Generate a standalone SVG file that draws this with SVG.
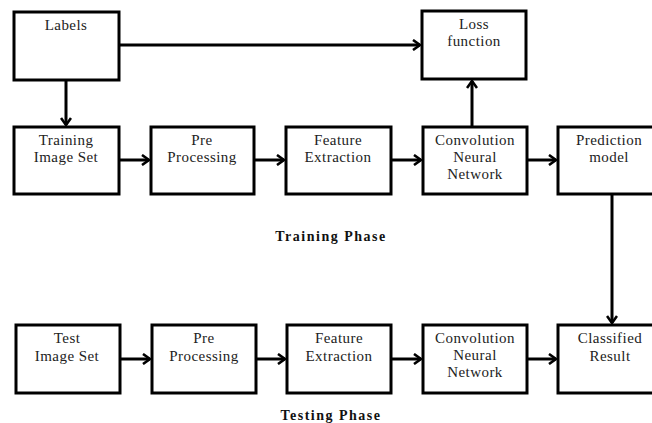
<svg xmlns="http://www.w3.org/2000/svg" width="652" height="423" viewBox="0 0 652 423">
<defs>
<style>
.box{fill:#fff;stroke:#000;stroke-width:3}
.t{font-family:"Liberation Serif",serif;font-size:15px;fill:#222;text-anchor:middle;letter-spacing:0.45px}
.h{font-family:"Liberation Serif",serif;font-size:14px;font-weight:bold;fill:#111;text-anchor:middle;letter-spacing:1.5px}
.c{fill:none;stroke:#000;stroke-width:3}
</style>
<marker id="ah" markerWidth="12" markerHeight="12" refX="9" refY="6" orient="auto" markerUnits="userSpaceOnUse">
<path d="M2,1 L9,6 L2,11" fill="none" stroke="#000" stroke-width="2.6"/>
</marker>
</defs>
<rect width="652" height="423" fill="#fff"/>
<g id="connectors">
<path class="c" d="M66,80 V125" marker-end="url(#ah)"/>
<path class="c" d="M119,45 H420" marker-end="url(#ah)"/>
<path class="c" d="M472,127 V81" marker-end="url(#ah)"/>
<path class="c" d="M612,194 V323" marker-end="url(#ah)"/>
<path class="c" d="M119,160 H149" marker-end="url(#ah)"/>
<path class="c" d="M254,160 H284" marker-end="url(#ah)"/>
<path class="c" d="M391,160 H421" marker-end="url(#ah)"/>
<path class="c" d="M527,160 H556" marker-end="url(#ah)"/>
<path class="c" d="M120,359 H150" marker-end="url(#ah)"/>
<path class="c" d="M256,359 H285" marker-end="url(#ah)"/>
<path class="c" d="M391,359 H421" marker-end="url(#ah)"/>
<path class="c" d="M527,359 H556" marker-end="url(#ah)"/>
</g>
<g id="labels"><rect class="box" x="14" y="12" width="105" height="68"/><text class="t" x="66" y="30">Labels</text></g>
<g id="loss"><rect class="box" x="422" y="11" width="104" height="68"/><text class="t" x="474" y="29">Loss</text><text class="t" x="474" y="46">function</text></g>
<g id="train-img"><rect class="box" x="14" y="127" width="105" height="67"/><text class="t" x="66" y="145">Training</text><text class="t" x="66" y="162">Image Set</text></g>
<g id="train-pre"><rect class="box" x="151" y="127" width="103" height="67"/><text class="t" x="202" y="145">Pre</text><text class="t" x="202" y="162">Processing</text></g>
<g id="train-feat"><rect class="box" x="286" y="127" width="105" height="67"/><text class="t" x="338" y="145">Feature</text><text class="t" x="338" y="162">Extraction</text></g>
<g id="train-cnn"><rect class="box" x="423" y="127" width="104" height="67"/><text class="t" x="475" y="145">Convolution</text><text class="t" x="475" y="162">Neural</text><text class="t" x="475" y="179">Network</text></g>
<g id="pred"><rect class="box" x="558" y="127" width="110" height="67"/><text class="t" x="609" y="145">Prediction</text><text class="t" x="609" y="162">model</text></g>
<g id="train-phase"><text class="h" x="331" y="241">Training Phase</text></g>
<g id="test-img"><rect class="box" x="16" y="325" width="104" height="68"/><text class="t" x="67" y="343">Test</text><text class="t" x="67" y="361">Image Set</text></g>
<g id="test-pre"><rect class="box" x="152" y="325" width="104" height="68"/><text class="t" x="204" y="343">Pre</text><text class="t" x="204" y="361">Processing</text></g>
<g id="test-feat"><rect class="box" x="287" y="325" width="104" height="68"/><text class="t" x="339" y="343">Feature</text><text class="t" x="339" y="361">Extraction</text></g>
<g id="test-cnn"><rect class="box" x="423" y="325" width="104" height="68"/><text class="t" x="475" y="343">Convolution</text><text class="t" x="475" y="360">Neural</text><text class="t" x="475" y="377">Network</text></g>
<g id="classified"><rect class="box" x="558" y="325" width="110" height="68"/><text class="t" x="610" y="343">Classified</text><text class="t" x="610" y="361">Result</text></g>
<g id="test-phase"><text class="h" x="331" y="420">Testing Phase</text></g>
</svg>
